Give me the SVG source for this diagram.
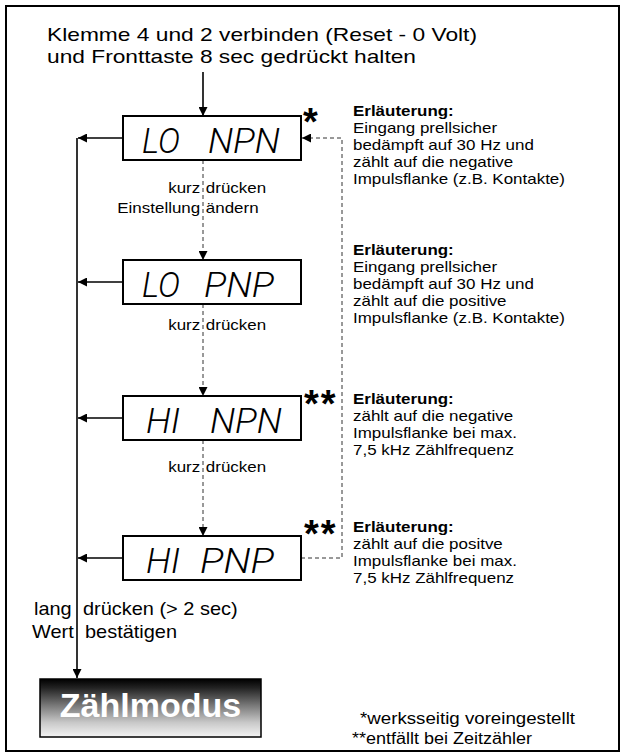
<svg xmlns="http://www.w3.org/2000/svg" width="620" height="752" viewBox="0 0 620 752">
<style>
.t{font-family:"Liberation Sans",Arial,sans-serif;fill:#000}
.title{font-size:19px}
.lbl{font-size:15px}
.big{font-size:19px}
.note{font-size:15px}
.b{font-weight:bold}
.fn{font-size:16px}
.star{font-family:"Liberation Sans",Arial,sans-serif;font-weight:bold;font-size:38px}
.seg{font-family:Roboto,"DejaVu Sans",sans-serif;font-weight:300;font-style:italic;font-size:35px;fill:#000}
.box{fill:#fff;stroke:#000;stroke-width:2}
.sol{fill:none;stroke:#000;stroke-width:1.6}
.dash{fill:none;stroke:#333;stroke-width:1;stroke-dasharray:4 3}
</style>
<defs>
<marker id="ah" viewBox="0 0 10 10" refX="10" refY="5" markerWidth="9" markerHeight="9" markerUnits="userSpaceOnUse" orient="auto"><path d="M0,0 L10,5 L0,10 z" fill="#000"/></marker>
<linearGradient id="gz" x1="0" y1="0" x2="0" y2="1">
<stop offset="0" stop-color="#000"/>
<stop offset="0.15" stop-color="#222"/>
<stop offset="0.45" stop-color="#777"/>
<stop offset="0.75" stop-color="#c8c8c8"/>
<stop offset="1" stop-color="#f4f4f4"/>
</linearGradient>
</defs>
<rect x="0" y="0" width="620" height="752" fill="#fff"/>
<rect id="frame" x="6" y="6" width="613" height="745" fill="none" stroke="#000" stroke-width="2"/>

<g id="title">
<text class="t title" x="47" y="41" textLength="430" lengthAdjust="spacingAndGlyphs">Klemme 4 und 2 verbinden (Reset - 0 Volt)</text>
<text class="t title" x="47" y="63" textLength="369" lengthAdjust="spacingAndGlyphs">und Fronttaste 8 sec gedrückt halten</text>
</g>

<g id="connectors">
<path class="sol" d="M203,72 V116" marker-end="url(#ah)"/>
<path class="sol" d="M77,138 V678" marker-end="url(#ah)"/>
<path class="sol" d="M123,138 H78" marker-end="url(#ah)"/>
<path class="sol" d="M123,282 H78" marker-end="url(#ah)"/>
<path class="sol" d="M123,418 H78" marker-end="url(#ah)"/>
<path class="sol" d="M123,558 H78" marker-end="url(#ah)"/>
<path class="dash" d="M203,160 V260" marker-end="url(#ah)"/>
<path class="dash" d="M203,304 V396" marker-end="url(#ah)"/>
<path class="dash" d="M203,440 V536" marker-end="url(#ah)"/>
<path class="dash" d="M301,558 H342 V138 H302" marker-end="url(#ah)"/>
</g>

<g id="n1">
<rect class="box" x="123" y="116" width="178" height="44"/>
<text class="seg" x="142" y="153" textLength="38" lengthAdjust="spacingAndGlyphs">LO</text>
<text class="seg" x="208" y="153" textLength="72" lengthAdjust="spacingAndGlyphs">NPN</text>
<text class="star" x="303" y="135">*</text>
</g>
<g id="n2">
<rect class="box" x="123" y="260" width="178" height="44"/>
<text class="seg" x="142" y="297" textLength="38" lengthAdjust="spacingAndGlyphs">LO</text>
<text class="seg" x="204" y="297" textLength="70" lengthAdjust="spacingAndGlyphs">PNP</text>
</g>
<g id="n3">
<rect class="box" x="123" y="396" width="178" height="44"/>
<text class="seg" x="146" y="433" textLength="34" lengthAdjust="spacingAndGlyphs">HI</text>
<text class="seg" x="210" y="433" textLength="72" lengthAdjust="spacingAndGlyphs">NPN</text>
<text class="star" x="304" y="417" letter-spacing="2">**</text>
</g>
<g id="n4">
<rect class="box" x="123" y="536" width="178" height="44"/>
<text class="seg" x="146" y="573" textLength="34" lengthAdjust="spacingAndGlyphs">HI</text>
<text class="seg" x="200" y="573" textLength="74" lengthAdjust="spacingAndGlyphs">PNP</text>
<text class="star" x="304" y="547" letter-spacing="2">**</text>
</g>
<g id="n5">
<rect x="40" y="679" width="221" height="58" fill="url(#gz)" stroke="#000" stroke-width="1.5"/>
<text class="t b" x="150.5" y="717" font-size="34" text-anchor="middle" style="fill:#fff">Zählmodus</text>
</g>

<g id="labels">
<text class="t lbl" transform="translate(203,193) scale(1.13,1)" text-anchor="end" x="-2.5" y="0">kurz</text>
<text class="t lbl" transform="translate(203,193) scale(1.13,1)" x="2.5" y="0">drücken</text>
<text class="t lbl" transform="translate(203,213) scale(1.13,1)" text-anchor="end" x="-2.5" y="0">Einstellung</text>
<text class="t lbl" transform="translate(203,213) scale(1.13,1)" x="2.5" y="0">ändern</text>
<text class="t lbl" transform="translate(203,330) scale(1.13,1)" text-anchor="end" x="-2.5" y="0">kurz</text>
<text class="t lbl" transform="translate(203,330) scale(1.13,1)" x="2.5" y="0">drücken</text>
<text class="t lbl" transform="translate(203,472) scale(1.13,1)" text-anchor="end" x="-2.5" y="0">kurz</text>
<text class="t lbl" transform="translate(203,472) scale(1.13,1)" x="2.5" y="0">drücken</text>
<text class="t big" transform="translate(34,615) scale(1.05,1)" x="0" y="0">lang</text>
<text class="t big" transform="translate(83,615) scale(1.05,1)" x="0" y="0">drücken (&gt; 2 sec)</text>
<text class="t big" transform="translate(32,638) scale(1.05,1)" x="0" y="0">Wert</text>
<text class="t big" transform="translate(85,638) scale(1.05,1)" x="0" y="0">bestätigen</text>
</g>

<g id="notes">
<g transform="translate(353,0) scale(1.13,1)">
<text class="t note b" x="0" y="116">Erläuterung:</text>
<text class="t note" x="0" y="133">Eingang prellsicher</text>
<text class="t note" x="0" y="150">bedämpft auf 30 Hz und</text>
<text class="t note" x="0" y="167">zählt auf die negative</text>
<text class="t note" x="0" y="184">Impulsflanke (z.B. Kontakte)</text>
<text class="t note b" x="0" y="255">Erläuterung:</text>
<text class="t note" x="0" y="272">Eingang prellsicher</text>
<text class="t note" x="0" y="289">bedämpft auf 30 Hz und</text>
<text class="t note" x="0" y="306">zählt auf die positive</text>
<text class="t note" x="0" y="323">Impulsflanke (z.B. Kontakte)</text>
<text class="t note b" x="0" y="404">Erläuterung:</text>
<text class="t note" x="0" y="421">zählt auf die negative</text>
<text class="t note" x="0" y="438">Impulsflanke bei max.</text>
<text class="t note" x="0" y="455">7,5 kHz Zählfrequenz</text>
<text class="t note b" x="0" y="532">Erläuterung:</text>
<text class="t note" x="0" y="549">zählt auf die positve</text>
<text class="t note" x="0" y="566">Impulsflanke bei max.</text>
<text class="t note" x="0" y="583">7,5 kHz Zählfrequenz</text>
</g>
</g>

<g id="footnotes">
<text class="t fn" x="360" y="724" textLength="215" lengthAdjust="spacingAndGlyphs">*werksseitig voreingestellt</text>
<text class="t fn" x="352" y="744" textLength="180" lengthAdjust="spacingAndGlyphs">**entfällt bei Zeitzähler</text>
</g>
</svg>
